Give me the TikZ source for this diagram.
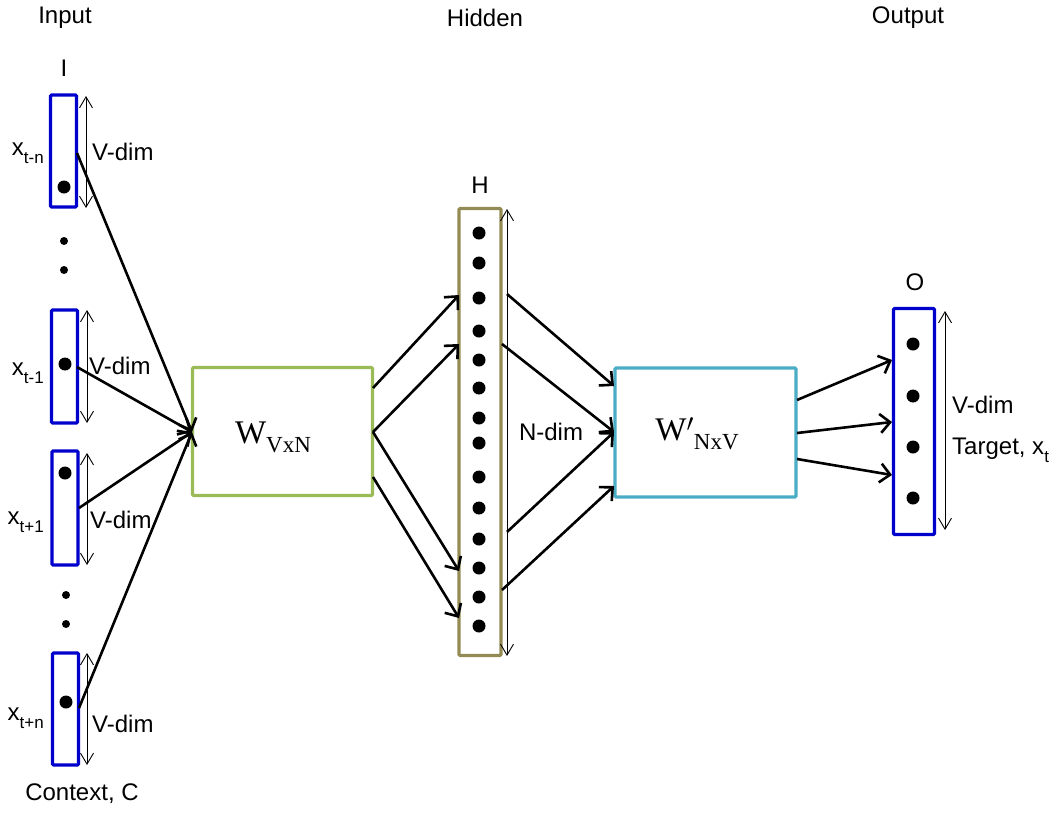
\documentclass[tikz,border=0pt]{standalone}
\usepackage{fontspec}
\newfontfamily\arialf{Liberation Sans}
\newfontfamily\serifw{Liberation Serif}
\usetikzlibrary{arrows.meta}
\definecolor{inblue}{HTML}{0000CC}
\definecolor{wgreen}{HTML}{9BBB59}
\definecolor{holive}{HTML}{948A54}
\definecolor{wteal}{HTML}{4BACC6}
\newcommand{\mysub}[1]{\raisebox{-0.32em}{\fontsize{17}{17}\selectfont #1}}
\newcommand{\wsub}[1]{\raisebox{-0.28em}{\fontsize{23}{23}\selectfont #1}}
\tikzset{
  lbl/.style={font=\arialf\fontsize{24}{28}\selectfont, inner sep=0pt},
  wlbl/.style={font=\serifw\fontsize{33}{35}\selectfont, inner sep=0pt},
  vecbox/.style={draw, line width=3.2pt, rounded corners=1.2pt, inner sep=0pt, minimum width=#1},
  wbox/.style={draw, line width=3.2pt, rounded corners=1.2pt, inner sep=0pt, minimum width=180pt, minimum height=128pt},
  arr/.style={-{Straight Barb[length=10pt,width=19pt]}, line width=2.6pt},
  dimarr/.style={{Straight Barb[length=11pt,width=13pt]}-{Straight Barb[length=11pt,width=13pt]}, line width=0.9pt},
  bdot/.style={fill=black, circle, inner sep=0pt, minimum size=13pt},
  sdot/.style={fill=black, circle, inner sep=0pt, minimum size=8pt}
}
\begin{document}
\begin{tikzpicture}[x=1pt,y=-1pt]
\useasboundingbox (0,0) rectangle (1059,812);
% titles
\node[lbl] (tin) at (65,18) {Input};
\node[lbl] (thid) at (485,18) {Hidden};
\node[lbl] (tout) at (908,18) {Output};
\node[lbl] (tI) at (64,68) {I};
\node[lbl] (tH) at (480,185) {H};
\node[lbl] (tO) at (915,282) {O};
\node[lbl] (tC) at (82,794) {Context, C};
% input boxes
\node[vecbox=26pt, minimum height=112pt, inblue] (in1) at (63.5,151) {};
\node[vecbox=26pt, minimum height=113pt, inblue] (in2) at (64.5,366.5) {};
\node[vecbox=26pt, minimum height=114pt, inblue] (in3) at (65,508) {};
\node[vecbox=26pt, minimum height=112pt, inblue] (in4) at (65.5,709) {};
\node[bdot] (d1) at (64,187) {};
\node[bdot] (d2) at (65,364) {};
\node[bdot] (d3) at (65,473) {};
\node[bdot] (d4) at (66,702) {};
\node[sdot] (e1) at (64,241) {};
\node[sdot] (e2) at (64,270) {};
\node[sdot] (e3) at (66,595) {};
\node[sdot] (e4) at (66,624) {};
% input labels
\node[lbl, anchor=east] (x1) at (44,153) {x\mysub{t-n}};
\node[lbl, anchor=east] (x2) at (44,373) {x\mysub{t-1}};
\node[lbl, anchor=east] (x3) at (44,522) {x\mysub{t+1}};
\node[lbl, anchor=east] (x4) at (44,718) {x\mysub{t+n}};
\node[lbl, anchor=west] (v1) at (92,152) {V-dim};
\node[lbl, anchor=west] (v2) at (89,366) {V-dim};
\node[lbl, anchor=west] (v3) at (90,520) {V-dim};
\node[lbl, anchor=west] (v4) at (92,724) {V-dim};
% dim arrows input
\coordinate (a1t) at (86,96); \coordinate (a1b) at (86,208);
\coordinate (a2t) at (87,310); \coordinate (a2b) at (87,423);
\coordinate (a3t) at (87,453); \coordinate (a3b) at (87,565);
\coordinate (a4t) at (87,653); \coordinate (a4b) at (87,765);
\draw[dimarr] (a1t) -- (a1b);
\draw[dimarr] (a2t) -- (a2b);
\draw[dimarr] (a3t) -- (a3b);
\draw[dimarr] (a4t) -- (a4b);
% W box
\node[wbox, wgreen] (W) at (282.5,431.5) {};
\node[wlbl] (Wt) at (273,437) {W\wsub{VxN}};
% H box
\node[vecbox=42pt, minimum height=447pt, holive] (H) at (480,432) {};
\foreach \y [count=\i] in {233,263,298,331,360,388,418,443,477,508,539,568,597,626}
  \node[bdot] (h\i) at (479,\y) {};
\coordinate (aht) at (507,209); \coordinate (ahb) at (507,656);
\draw[dimarr] (aht) -- (ahb);
\node[lbl] (nd) at (551,432) {N-dim};
% W' box
\node[wbox, wteal, minimum width=181pt, minimum height=129pt] (Wp) at (705.5,432.5) {};
\node[wlbl] (Wpt) at (697,434) {W$'$\wsub{NxV}};
% O box
\node[vecbox=41pt, minimum height=226pt, inblue] (O) at (914,421.5) {};
\node[bdot] (o1) at (913,344) {};
\node[bdot] (o2) at (913,396) {};
\node[bdot] (o3) at (913,447) {};
\node[bdot] (o4) at (913,498) {};
\coordinate (aot) at (945,311); \coordinate (aob) at (945,530);
\draw[dimarr] (aot) -- (aob);
\node[lbl, anchor=west] (vo) at (952,405) {V-dim};
\node[lbl, anchor=west] (tg) at (952,450) {Target, x\mysub{t}};
% connectors: input -> W
\coordinate (s1) at (77,153);
\coordinate (s2) at (77,367);
\coordinate (s3) at (79,508);
\coordinate (s4) at (79,708);
\coordinate (wi) at (192,432);
\foreach \s in {s1,s2,s3,s4} \draw[arr] (\s) -- (wi);
% W -> H
\coordinate (wo1) at (373,388); \coordinate (hi1) at (459,295);
\coordinate (wo2) at (373,432); \coordinate (hi2) at (459,344);
\coordinate (hi3) at (459,571);
\coordinate (wo4) at (373,477); \coordinate (hi4) at (459,618);
\draw[arr] (wo1) -- (hi1);
\draw[arr] (wo2) -- (hi2);
\draw[arr] (wo2) -- (hi3);
\draw[arr] (wo4) -- (hi4);
% H -> W'
\coordinate (ho1) at (507,294); \coordinate (pi1) at (614,386);
\coordinate (ho2) at (502,344); \coordinate (pi2) at (614,432);
\coordinate (ho3) at (507,532);
\coordinate (ho4) at (502,590); \coordinate (pi4) at (614,486);
\draw[arr] (ho1) -- (pi1);
\draw[arr] (ho2) -- (pi2);
\draw[arr] (ho3) -- (pi2);
\draw[arr] (ho4) -- (pi4);
% W' -> O
\coordinate (po1) at (797,400); \coordinate (oi1) at (892,360);
\coordinate (po2) at (797,433); \coordinate (oi2) at (892,422);
\coordinate (po3) at (797,459); \coordinate (oi3) at (892,475);
\draw[arr] (po1) -- (oi1);
\draw[arr] (po2) -- (oi2);
\draw[arr] (po3) -- (oi3);
\end{tikzpicture}
\end{document}
